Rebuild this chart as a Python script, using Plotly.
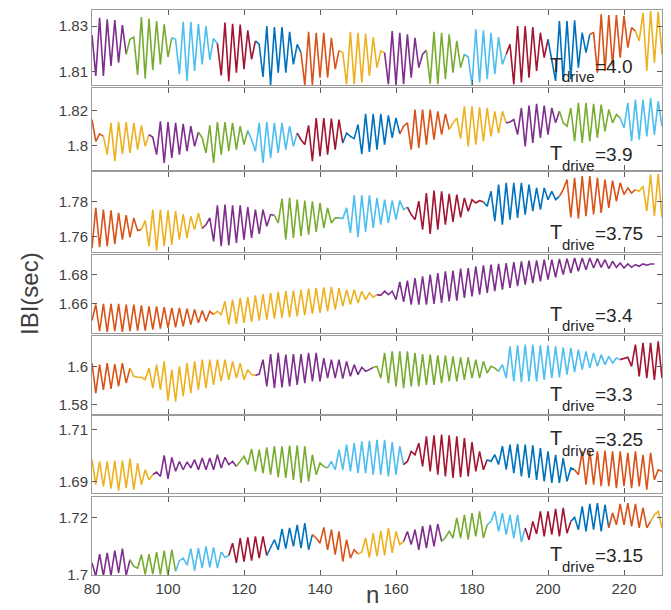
import plotly.graph_objects as go

n_values = list(range(80, 231))

# MATLAB default colour order
color_order = ["#0072BD", "#D95319", "#EDB120", "#7E2F8E", "#77AC30", "#4DBEEE", "#A2142F"]

ibi_T40 = [1.8261, 1.8083, 1.8336, 1.8083, 1.8329, 1.8126, 1.8326, 1.8140, 1.8304, 1.8177,
           1.8242, 1.8252, 1.8087, 1.8339, 1.8072, 1.8333, 1.8109, 1.8322, 1.8133, 1.8307,
           1.8165, 1.8249, 1.8242, 1.8090, 1.8319, 1.8061, 1.8319, 1.8104, 1.8310, 1.8133,
           1.8300, 1.8152, 1.8246, 1.8223, 1.8085, 1.8315, 1.8058, 1.8310, 1.8097, 1.8307,
           1.8112, 1.8281, 1.8155, 1.8235, 1.8220, 1.8078, 1.8300, 1.8043, 1.8296, 1.8097,
           1.8296, 1.8097, 1.8275, 1.8133, 1.8220, 1.8184, 1.8043, 1.8275, 1.8043, 1.8271,
           1.8075, 1.8271, 1.8075, 1.8249, 1.8112, 1.8194, 1.8184, 1.8046, 1.8275, 1.8046,
           1.8271, 1.8054, 1.8267, 1.8083, 1.8252, 1.8119, 1.8191, 1.8184, 1.8046, 1.8278,
           1.8043, 1.8271, 1.8046, 1.8264, 1.8075, 1.8249, 1.8119, 1.8177, 1.8194, 1.8049,
           1.8275, 1.8046, 1.8271, 1.8068, 1.8264, 1.8097, 1.8235, 1.8119, 1.8177, 1.8165,
           1.8043, 1.8286, 1.8054, 1.8281, 1.8068, 1.8271, 1.8090, 1.8252, 1.8133, 1.8177,
           1.8220, 1.8046, 1.8300, 1.8054, 1.8300, 1.8075, 1.8296, 1.8104, 1.8271, 1.8162,
           1.8242, 1.8155, 1.8061, 1.8322, 1.8061, 1.8322, 1.8068, 1.8325, 1.8119, 1.8271,
           1.8184, 1.8264, 1.8271, 1.8097, 1.8351, 1.8104, 1.8348, 1.8126, 1.8348, 1.8162,
           1.8344, 1.8206, 1.8293, 1.8278, 1.8235, 1.8358, 1.8104, 1.8365, 1.8140, 1.8362,
           1.8177]
ibi_T39 = [1.8147, 1.8023, 1.8065, 1.8051, 1.7947, 1.8128, 1.7909, 1.8133, 1.7950, 1.8133,
           1.7956, 1.8128, 1.7975, 1.8114, 1.7994, 1.8061, 1.8046, 1.7947, 1.8137, 1.7899,
           1.8133, 1.7928, 1.8128, 1.7947, 1.8122, 1.7966, 1.8109, 1.7994, 1.8076, 1.8042,
           1.7956, 1.8114, 1.7899, 1.8133, 1.7947, 1.8133, 1.7966, 1.8128, 1.7975, 1.8109,
           1.8004, 1.8084, 1.8032, 1.7966, 1.8128, 1.7899, 1.8133, 1.7928, 1.8128, 1.7956,
           1.8128, 1.7975, 1.8109, 1.7994, 1.8070, 1.8032, 1.8004, 1.8114, 1.7909, 1.8156,
           1.7937, 1.8156, 1.7947, 1.8152, 1.7975, 1.8147, 1.8013, 1.8070, 1.8051, 1.8038,
           1.8118, 1.7950, 1.8179, 1.7962, 1.8179, 1.7975, 1.8179, 1.8004, 1.8171, 1.8042,
           1.8156, 1.8065, 1.8109, 1.8128, 1.7975, 1.8204, 1.7985, 1.8204, 1.8004, 1.8204,
           1.8032, 1.8194, 1.8061, 1.8179, 1.8090, 1.8128, 1.8156, 1.8038, 1.8223, 1.7994,
           1.8223, 1.8004, 1.8217, 1.8023, 1.8213, 1.8051, 1.8194, 1.8070, 1.8194, 1.8128,
           1.8133, 1.8147, 1.8061, 1.8213, 1.7994, 1.8227, 1.8013, 1.8236, 1.8042, 1.8227,
           1.8061, 1.8213, 1.8128, 1.8194, 1.8128, 1.8109, 1.8213, 1.8023, 1.8242, 1.8013,
           1.8242, 1.8023, 1.8236, 1.8042, 1.8232, 1.8080, 1.8204, 1.8128, 1.8175, 1.8156,
           1.8099, 1.8242, 1.8023, 1.8261, 1.8032, 1.8261, 1.8051, 1.8270, 1.8061, 1.8251,
           1.8109]
ibi_T375 = [1.7537, 1.7766, 1.7541, 1.7756, 1.7547, 1.7752, 1.7560, 1.7737, 1.7585, 1.7724,
            1.7598, 1.7709, 1.7636, 1.7642, 1.7693, 1.7547, 1.7756, 1.7522, 1.7756, 1.7547,
            1.7752, 1.7556, 1.7747, 1.7585, 1.7731, 1.7594, 1.7718, 1.7642, 1.7737, 1.7648,
            1.7670, 1.7709, 1.7575, 1.7781, 1.7547, 1.7785, 1.7552, 1.7781, 1.7566, 1.7781,
            1.7585, 1.7770, 1.7594, 1.7756, 1.7617, 1.7756, 1.7661, 1.7728, 1.7724, 1.7680,
            1.7819, 1.7585, 1.7823, 1.7594, 1.7813, 1.7604, 1.7808, 1.7613, 1.7804, 1.7629,
            1.7794, 1.7651, 1.7766, 1.7680, 1.7709, 1.7709, 1.7705, 1.7766, 1.7623, 1.7838,
            1.7598, 1.7838, 1.7629, 1.7838, 1.7651, 1.7823, 1.7670, 1.7813, 1.7680, 1.7808,
            1.7699, 1.7808, 1.7756, 1.7770, 1.7728, 1.7699, 1.7804, 1.7642, 1.7851, 1.7617,
            1.7865, 1.7642, 1.7861, 1.7670, 1.7846, 1.7686, 1.7842, 1.7712, 1.7823, 1.7747,
            1.7813, 1.7794, 1.7808, 1.7800, 1.7775, 1.7861, 1.7690, 1.7899, 1.7670, 1.7909,
            1.7699, 1.7909, 1.7709, 1.7909, 1.7728, 1.7899, 1.7747, 1.7880, 1.7756, 1.7880,
            1.7813, 1.7861, 1.7813, 1.7832, 1.7870, 1.7928, 1.7712, 1.7937, 1.7705, 1.7947,
            1.7718, 1.7947, 1.7728, 1.7937, 1.7737, 1.7928, 1.7766, 1.7922, 1.7804, 1.7909,
            1.7842, 1.7880, 1.7851, 1.7870, 1.7861, 1.7890, 1.7747, 1.7956, 1.7718, 1.7960,
            1.7712]
ibi_T34 = [1.6487, 1.6596, 1.6414, 1.6600, 1.6409, 1.6600, 1.6414, 1.6600, 1.6409, 1.6596,
           1.6414, 1.6596, 1.6418, 1.6591, 1.6418, 1.6584, 1.6425, 1.6584, 1.6432, 1.6578,
           1.6437, 1.6573, 1.6441, 1.6573, 1.6448, 1.6568, 1.6459, 1.6562, 1.6471, 1.6555,
           1.6482, 1.6550, 1.6528, 1.6550, 1.6528, 1.6618, 1.6459, 1.6630, 1.6464, 1.6641,
           1.6471, 1.6646, 1.6477, 1.6659, 1.6487, 1.6668, 1.6494, 1.6675, 1.6500, 1.6682,
           1.6505, 1.6687, 1.6509, 1.6691, 1.6516, 1.6698, 1.6523, 1.6705, 1.6532, 1.6709,
           1.6539, 1.6714, 1.6550, 1.6716, 1.6562, 1.6709, 1.6584, 1.6698, 1.6596, 1.6698,
           1.6607, 1.6687, 1.6630, 1.6675, 1.6646, 1.6664, 1.6659, 1.6687, 1.6664, 1.6687,
           1.6630, 1.6750, 1.6614, 1.6759, 1.6596, 1.6777, 1.6596, 1.6789, 1.6596, 1.6800,
           1.6600, 1.6811, 1.6607, 1.6823, 1.6618, 1.6827, 1.6623, 1.6841, 1.6641, 1.6845,
           1.6652, 1.6857, 1.6664, 1.6864, 1.6675, 1.6868, 1.6687, 1.6873, 1.6698, 1.6879,
           1.6709, 1.6886, 1.6721, 1.6891, 1.6732, 1.6895, 1.6743, 1.6898, 1.6755, 1.6902,
           1.6766, 1.6902, 1.6782, 1.6907, 1.6800, 1.6909, 1.6811, 1.6914, 1.6823, 1.6914,
           1.6834, 1.6914, 1.6845, 1.6909, 1.6850, 1.6902, 1.6841, 1.6891, 1.6850, 1.6879,
           1.6845, 1.6873, 1.6850, 1.6868, 1.6857, 1.6873, 1.6864, 1.6873, 1.6873, None,
           None]
ibi_T33 = [1.6017, 1.5861, 1.6009, 1.5878, 1.6017, 1.5883, 1.6012, 1.5896, 1.6017, 1.5913,
           1.5991, 1.5948, 1.5943, 1.5943, 1.5930, 1.5991, 1.5887, 1.6009, 1.5878, 1.6026,
           1.5821, 1.5983, 1.5817, 1.6000, 1.5843, 1.6017, 1.5861, 1.6026, 1.5878, 1.6035,
           1.5887, 1.6035, 1.5904, 1.6035, 1.5922, 1.6035, 1.5930, 1.6026, 1.5939, 1.6017,
           1.5930, 1.5983, 1.5957, 1.5953, 1.5960, 1.6035, 1.5896, 1.6064, 1.5887, 1.6070,
           1.5890, 1.6061, 1.5896, 1.6064, 1.5904, 1.6064, 1.5913, 1.6070, 1.5922, 1.6070,
           1.5922, 1.6043, 1.5939, 1.6035, 1.5939, 1.6035, 1.5936, 1.6026, 1.5948, 1.6009,
           1.5957, 1.5995, 1.5974, 1.5983, 1.5995, 1.6000, 1.5939, 1.6070, 1.5913, 1.6078,
           1.5896, 1.6078, 1.5887, 1.6078, 1.5896, 1.6070, 1.5896, 1.6064, 1.5904, 1.6061,
           1.5904, 1.6057, 1.5913, 1.6057, 1.5922, 1.6052, 1.5922, 1.6047, 1.5930, 1.6047,
           1.5939, 1.6035, 1.5939, 1.6026, 1.5965, 1.6000, 1.5991, 1.5974, 1.6009, 1.5939,
           1.6104, 1.5922, 1.6110, 1.5918, 1.6113, 1.5922, 1.6113, 1.5922, 1.6110, 1.5930,
           1.6110, 1.5939, 1.6104, 1.5943, 1.6099, 1.5957, 1.6096, 1.5970, 1.6087, 1.5983,
           1.6078, 1.5991, 1.6070, 1.6000, 1.6061, 1.6009, 1.6052, 1.6017, 1.6043, 1.6035,
           1.6043, 1.6047, 1.6000, 1.6113, 1.5948, 1.6122, 1.5939, 1.6122, 1.5930, 1.6130,
           1.5939]
ibi_T325 = [1.6984, 1.6887, 1.6977, 1.6881, 1.6977, 1.6872, 1.6980, 1.6864, 1.6980, 1.6874,
            1.6988, 1.6868, 1.6971, 1.6887, 1.6945, 1.6906, 1.6926, 1.6936, 1.6919, 1.7001,
            1.6910, 1.6993, 1.6939, 1.6977, 1.6945, 1.6975, 1.6952, 1.6984, 1.6945, 1.6990,
            1.6945, 1.6990, 1.6945, 1.7003, 1.6952, 1.6993, 1.6965, 1.6977, 1.6958, 1.6977,
            1.6997, 1.6965, 1.7026, 1.6939, 1.7023, 1.6932, 1.7032, 1.6926, 1.7036, 1.6916,
            1.7036, 1.6913, 1.7038, 1.6906, 1.7039, 1.6894, 1.7036, 1.6900, 1.7003, 1.6926,
            1.6971, 1.6958, 1.6952, 1.6977, 1.6945, 1.7023, 1.6945, 1.7042, 1.6939, 1.7048,
            1.6932, 1.7055, 1.6932, 1.7057, 1.6926, 1.7061, 1.6926, 1.7061, 1.6919, 1.7052,
            1.6926, 1.7036, 1.6965, 1.6977, 1.7016, 1.7003, 1.7048, 1.6958, 1.7074, 1.6939,
            1.7078, 1.6926, 1.7081, 1.6919, 1.7078, 1.6913, 1.7074, 1.6916, 1.7068, 1.6919,
            1.7052, 1.6939, 1.7016, 1.6945, 1.6984, 1.6977, 1.7003, 1.6965, 1.7036, 1.6945,
            1.7042, 1.6932, 1.7045, 1.6919, 1.7042, 1.6913, 1.7039, 1.6906, 1.7029, 1.6900,
            1.7016, 1.6894, 1.7003, 1.6894, 1.6990, 1.6900, 1.6952, 1.6945, 1.6926, 1.7016,
            1.6887, 1.7019, 1.6887, 1.7016, 1.6881, 1.7019, 1.6881, 1.7016, 1.6874, 1.7016,
            1.6881, 1.7010, 1.6874, 1.7016, 1.6881, 1.7003, 1.6868, 1.7010, 1.6906, 1.6945,
            1.6939]
ibi_T315 = [1.7041, 1.6995, 1.7072, 1.6996, 1.7076, 1.6997, 1.7084, 1.7006, 1.7091, 1.6998,
            1.7052, 1.7029, 1.7023, 1.7070, 1.7000, 1.7072, 1.7002, 1.7079, 1.7000, 1.7084,
            1.6998, 1.7087, 1.7012, 1.7049, 1.7058, 1.7033, 1.7091, 1.7014, 1.7093, 1.7023,
            1.7099, 1.7026, 1.7095, 1.7023, 1.7079, 1.7060, 1.7067, 1.7110, 1.7041, 1.7128,
            1.7046, 1.7130, 1.7049, 1.7134, 1.7058, 1.7134, 1.7067, 1.7093, 1.7122, 1.7087,
            1.7160, 1.7091, 1.7163, 1.7099, 1.7174, 1.7093, 1.7180, 1.7087, 1.7140, 1.7128,
            1.7110, 1.7165, 1.7087, 1.7157, 1.7070, 1.7151, 1.7046, 1.7122, 1.7058, 1.7087,
            1.7072, 1.7079, 1.7128, 1.7060, 1.7145, 1.7064, 1.7153, 1.7067, 1.7163, 1.7076,
            1.7151, 1.7105, 1.7116, 1.7151, 1.7105, 1.7157, 1.7087, 1.7169, 1.7093, 1.7174,
            1.7099, 1.7177, 1.7116, 1.7130, 1.7151, 1.7128, 1.7198, 1.7128, 1.7209, 1.7122,
            1.7215, 1.7134, 1.7221, 1.7128, 1.7174, 1.7186, 1.7221, 1.7151, 1.7215, 1.7140,
            1.7209, 1.7128, 1.7209, 1.7114, 1.7163, 1.7122, 1.7186, 1.7142, 1.7221, 1.7134,
            1.7221, 1.7140, 1.7230, 1.7134, 1.7233, 1.7145, 1.7186, 1.7200, 1.7157, 1.7238,
            1.7151, 1.7247, 1.7157, 1.7250, 1.7151, 1.7244, 1.7163, 1.7215, 1.7174, 1.7247,
            1.7174, 1.7250, 1.7169, 1.7247, 1.7163, 1.7233, 1.7163, 1.7186, 1.7209, 1.7221,
            1.7163]

# index (0-based, from n=80) where each coloured segment starts, and its colour index
seg_T40 = [(0, 3), (9, 4), (21, 5), (33, 6), (43, 0), (55, 1), (65, 2), (77, 3), (88, 4),
           (98, 5), (109, 6), (120, 0), (131, 1), (143, 2)]
seg_T39 = [(0, 1), (3, 2), (15, 3), (28, 4), (41, 5), (54, 6), (66, 0), (81, 1), (94, 2),
           (109, 3), (123, 4), (139, 5)]
seg_T375 = [(0, 1), (13, 2), (29, 3), (48, 4), (65, 5), (83, 6), (103, 0), (123, 1), (143, 2)]
seg_T34 = [(0, 1), (32, 2), (75, 3)]
seg_T33 = [(0, 1), (10, 2), (43, 3), (74, 4), (107, 5), (139, 6)]
seg_T325 = [(0, 2), (16, 3), (38, 4), (62, 5), (82, 6), (104, 0), (127, 1)]
seg_T315 = [(0, 3), (10, 4), (22, 5), (36, 6), (46, 0), (58, 1), (70, 2), (82, 3), (92, 4),
            (104, 5), (114, 6), (126, 0), (136, 1), (147, 2)]

panel_series = [ibi_T40, ibi_T39, ibi_T375, ibi_T34, ibi_T33, ibi_T325, ibi_T315]
panel_segments = [seg_T40, seg_T39, seg_T375, seg_T34, seg_T33, seg_T325, seg_T315]
panel_labels = ["=4.0", "=3.9", "=3.75", "=3.4", "=3.3", "=3.25", "=3.15"]
panel_ranges = [[1.8043, 1.8370], [1.7859, 1.8327], [1.7514, 1.7971], [1.6402, 1.6934],
                [1.5752, 1.6158], [1.6855, 1.7153], [1.6999, 1.7271]]
panel_yticks = [[1.81, 1.83], [1.80, 1.82], [1.76, 1.78], [1.66, 1.68],
                [1.58, 1.60], [1.69, 1.71], [1.70, 1.72]]
panel_yticktext = [["1.81", "1.83"], ["1.8", "1.82"], ["1.76", "1.78"], ["1.66", "1.68"],
                   ["1.58", "1.6"], ["1.69", "1.71"], ["1.7", "1.72"]]
x_ticks = [80, 100, 120, 140, 160, 180, 200, 220]

# layout geometry (pixels from top of the 610-px figure)
W, H = 671, 610
M_T, M_B, M_L, M_R = 2, 43, 84, 17
panel_px = [(2, 77), (80, 162), (164, 244), (247, 325), (328, 406), (408, 485), (489, 567)]
label_T_px = [56, 144, 223, 305, 385, 429, 545]
PH = H - M_T - M_B
PW = W - M_L - M_R


def py2paper(py):
    return (H - M_B - py) / PH


def px2paper(px):
    return (px - M_L) / PW


FONT = "Liberation Sans, Arial, Helvetica, sans-serif"
LINE_C = "#9a9a9a"
TICK_C = "#5a5a5a"
TXT_C = "#404040"

fig = go.Figure()
annotations = []
for k in range(7):
    ax = "" if k == 0 else str(k + 1)
    vals = panel_series[k]
    segs = panel_segments[k]
    for s_i, (start, cidx) in enumerate(segs):
        end = segs[s_i + 1][0] if s_i + 1 < len(segs) else len(vals) - 1
        xs = n_values[start:end + 1]
        ys = vals[start:end + 1]
        fig.add_trace(go.Scatter(x=xs, y=ys, mode="lines",
                                 line=dict(color=color_order[cidx], width=1.6),
                                 xaxis="x" + ax, yaxis="y" + ax,
                                 showlegend=False, hoverinfo="skip"))
    top, bot = panel_px[k]
    fig.layout["xaxis" + ax] = dict(
        domain=[0, 1], range=[80, 230], anchor="y" + ax,
        tickvals=x_ticks, showticklabels=(k == 6),
        ticks="inside", ticklen=5, tickcolor=TICK_C, tickwidth=1,
        showline=True, linecolor=LINE_C, linewidth=1, mirror="ticks",
        showgrid=False, zeroline=False,
        tickfont=dict(family=FONT, size=15, color=TXT_C),
        matches=None if k == 0 else "x")
    fig.layout["yaxis" + ax] = dict(
        domain=[py2paper(bot), py2paper(top)], range=panel_ranges[k], anchor="x" + ax,
        tickvals=panel_yticks[k], ticktext=panel_yticktext[k],
        ticks="inside", ticklen=5, tickcolor=TICK_C, tickwidth=1,
        showline=True, linecolor=LINE_C, linewidth=1, mirror="ticks",
        showgrid=False, zeroline=False,
        tickfont=dict(family=FONT, size=15, color=TXT_C))
    ty = label_T_px[k]
    annotations.append(dict(
        x=px2paper(540), y=py2paper(ty + 1), xref="paper", yref="paper",
        xanchor="left", yanchor="middle", text="T", showarrow=False,
        font=dict(family=FONT, size=20, color="#262626")))
    annotations.append(dict(
        x=px2paper(552), y=py2paper(ty + 13), xref="paper", yref="paper",
        xanchor="left", yanchor="middle", text="drive", showarrow=False,
        font=dict(family=FONT, size=15, color="#262626")))
    annotations.append(dict(
        x=px2paper(585), y=py2paper(ty + 2), xref="paper", yref="paper",
        xanchor="left", yanchor="middle", text=panel_labels[k], showarrow=False,
        font=dict(family=FONT, size=19, color="#262626")))

annotations.append(dict(x=px2paper(22), y=py2paper(286), xref="paper", yref="paper",
                        text="IBI(sec)", textangle=-90, showarrow=False,
                        xanchor="center", yanchor="middle",
                        font=dict(family=FONT, size=24, color=TXT_C)))
annotations.append(dict(x=px2paper(364), y=py2paper(586), xref="paper", yref="paper",
                        text="n", showarrow=False, xanchor="center", yanchor="middle",
                        font=dict(family=FONT, size=24, color=TXT_C)))

fig.update_layout(width=W, height=H,
                  margin=dict(l=M_L, r=M_R, t=M_T, b=M_B),
                  paper_bgcolor="white", plot_bgcolor="white",
                  annotations=annotations, showlegend=False)

fig.write_html("out.html")
